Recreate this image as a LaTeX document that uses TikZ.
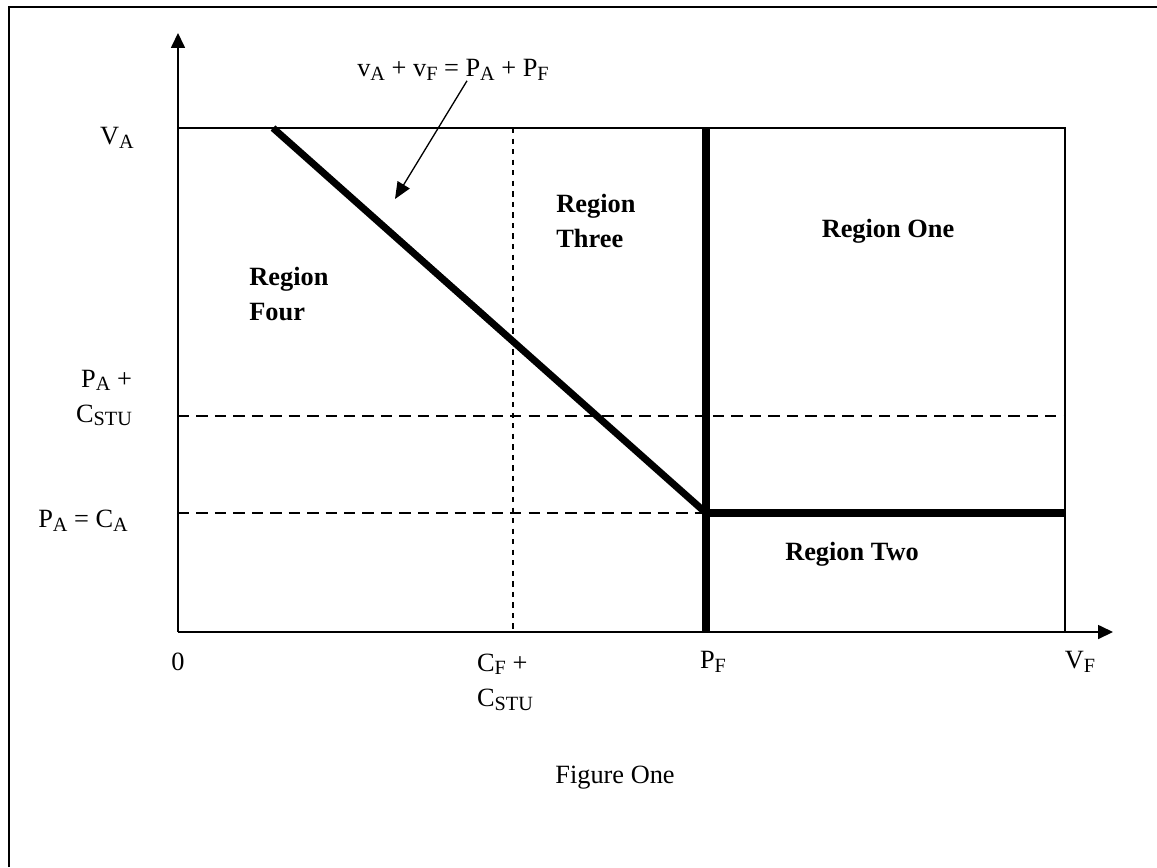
\documentclass[tikz,border=0pt]{standalone}
\usepackage{fontspec}
\setmainfont{Liberation Serif}
\usetikzlibrary{arrows.meta,positioning}
\newcommand{\lowix}[1]{\raisebox{-0.3ex}{\fontsize{11.5}{12}\selectfont #1}}

\begin{document}
\begin{tikzpicture}[
    x=0.02cm, y=-0.02cm,
    lbl/.style    = {inner sep=0pt, font=\fontsize{15}{20}\selectfont},
    region/.style = {inner sep=0pt, align=left, font=\fontsize{15}{20}\selectfont\bfseries},
    axis/.style   = {line width=0.75pt, -{Triangle[length=8.5pt, width=8pt]}},
    thin/.style   = {line width=0.75pt},
    dashv/.style  = {line width=0.7pt, dash pattern=on 3pt off 3pt},
    dashh/.style  = {line width=0.7pt, dash pattern=on 6.5pt off 4pt},
    bound/.style  = {line width=4pt},
    pointer/.style= {line width=0.75pt, -{Triangle[length=9.5pt, width=8pt]}}
  ]
    \useasboundingbox (0,0) rectangle (1157,867);
    % page frame
    \draw[line width=1.2pt] (9,867) -- (9,7) -- (1157,7);

    % corners of the plot
    \coordinate (orig) at (178,632);
    \coordinate (ytip) at (178,33);
    \coordinate (xtip) at (1113,632);
    \coordinate (tl)   at (178,128);
    \coordinate (tr)   at (1065,128);
    \coordinate (br)   at (1065,632);
    \coordinate (cfT)  at (513,128);
    \coordinate (cfB)  at (513,632);
    \coordinate (stuL) at (178,416);
    \coordinate (stuR) at (1065,416);
    \coordinate (caL)  at (178,513);
    \coordinate (kink) at (706,513);
    \coordinate (caR)  at (1065,513);
    \coordinate (pfT)  at (706,128);
    \coordinate (pfB)  at (706,632);
    \coordinate (start) at (273,128);
    \coordinate (aim)  at (395,199);

    \draw[axis] (orig) -- (ytip);
    \draw[axis] (orig) -- (xtip);
    \draw[thin] (tl) -- (tr) -- (br);

    \draw[dashv] (cfT) -- (cfB);
    \draw[dashh] (stuL) -- (stuR);
    \draw[dashh] (caL) -- (kink);

    \draw[bound] (pfT) -- (pfB);
    \draw[bound] (kink) -- (caR);
    \draw[bound] (start) -- (kink);

    % axis labels
    \node[lbl] (va)   at (117,138) {V\lowix{A}};
    \node[lbl, align=right] (pastu) at (104,398) {P\lowix{A} +\\C\lowix{STU}};
    \node[lbl] (paca) at (83,521) {P\lowix{A} = C\lowix{A}};
    \node[lbl] (zero) at (178,662) {0};
    \node[lbl, align=left] (cfstu) at (505,682) {C\lowix{F} +\\C\lowix{STU}};
    \node[lbl] (pf)   at (713,662) {P\lowix{F}};
    \node[lbl] (vf)   at (1080,662) {V\lowix{F}};

    % regions
    \node[region, anchor=north west] (four)  at (249,267) {Region\\Four};
    \node[region, anchor=north west] (three) at (556,194) {Region\\Three};
    \node[region] (one) at (888,231) {Region One};
    \node[region] (two) at (852,554) {Region Two};

    % the iso-line label
    \node[lbl] (sum) at (453,70) {v\lowix{A} + v\lowix{F} = P\lowix{A} + P\lowix{F}};
    \draw[pointer] ([xshift=0.28cm]sum.south) -- (aim);

    \node[lbl] (cap) at (615,778) {Figure One};
\end{tikzpicture}
\end{document}
